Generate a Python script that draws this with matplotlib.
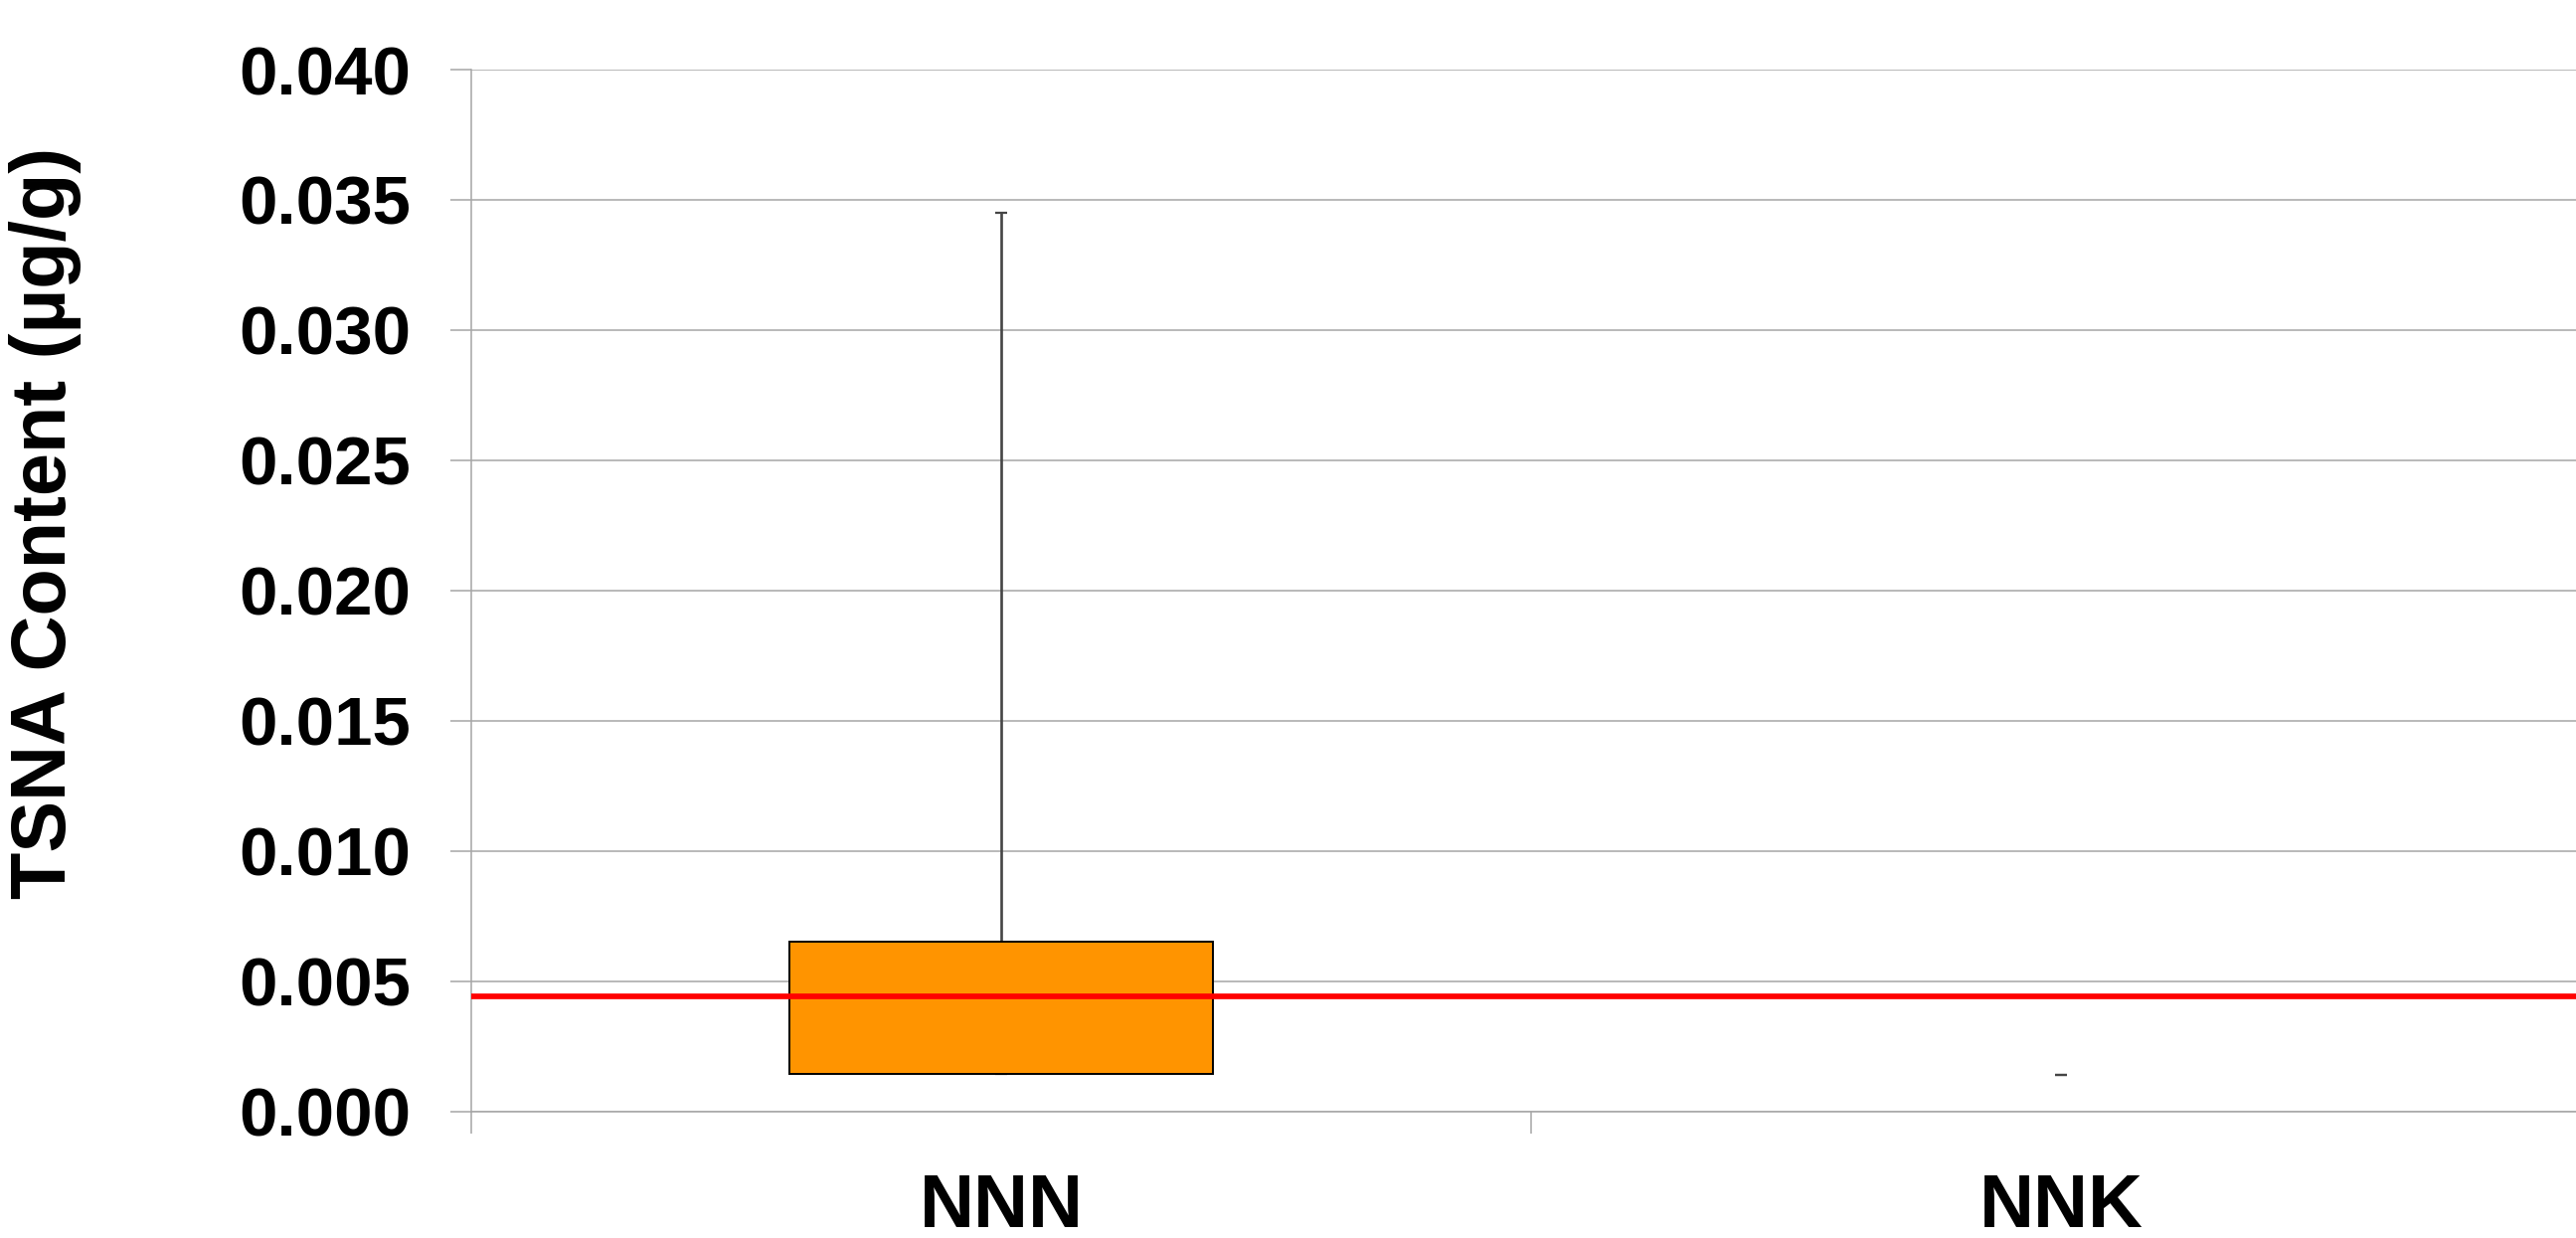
import numpy as np
import matplotlib
matplotlib.use("Agg")
import matplotlib.pyplot as plt
from matplotlib.ticker import FixedLocator, NullFormatter, FormatStrFormatter

# ----------------------------
# Data
# ----------------------------
categories = ["NNN", "NNK"]
box_low = [0.00143, 0.00142]      # lower edge of box (25th pct)
box_high = [0.0065, 0.00142]      # upper edge of box (75th pct)
whisker_low = [0.00143, 0.00142]
whisker_high = [0.0345, 0.00142]
reference_level = 0.0044          # red horizontal line

y_ticks = [0.000, 0.005, 0.010, 0.015, 0.020, 0.025, 0.030, 0.035, 0.040]

plt.rcParams["font.family"] = ["Liberation Sans", "DejaVu Sans"]
plt.rcParams["font.weight"] = "bold"

grid_col = "#a6a6a6"

fig = plt.figure(figsize=(25.91, 12.45), dpi=100)
# axes runs past the right edge of the picture, as in the reference
ax = fig.add_axes([474.3 / 2591, 127.3 / 1245, (2606 - 474.3) / 2591, (1117.7 - 70) / 1245])

x = np.arange(1, len(categories) + 1)
lo = np.array(box_low)
hi = np.array(box_high)

# whiskers (behind the boxes)
ax.errorbar(x, lo, yerr=[lo - np.array(whisker_low), np.array(whisker_high) - lo],
            fmt="none", ecolor="#454545", elinewidth=1.9, capsize=4.3, capthick=1.6, zorder=2)

# boxes, no outline where the box has no height
heights = hi - lo
ax.bar(x, heights, bottom=lo, width=0.4, color="#ff9400",
       edgecolor="black", linewidth=[1.4 if h > 0 else 0 for h in heights], zorder=3)

ax.axhline(reference_level, color="#ff0000", linewidth=4.1, zorder=4)

# axes styling
ax.set_xlim(0.5, len(categories) + 0.5)
ax.set_ylim(y_ticks[0], y_ticks[-1])
ax.set_yticks(y_ticks)
ax.yaxis.set_major_formatter(FormatStrFormatter("%.3f"))
ax.grid(axis="y", color=grid_col, linewidth=1.1, zorder=0)
ax.set_axisbelow(True)

ax.xaxis.set_major_locator(FixedLocator(np.arange(0.5, len(categories) + 1, 1.0)))
ax.xaxis.set_major_formatter(NullFormatter())
ax.xaxis.set_minor_locator(FixedLocator(x))
ax.set_xticklabels(categories, minor=True)

for side in ["top", "right"]:
    ax.spines[side].set_visible(False)
for side in ["left", "bottom"]:
    ax.spines[side].set_color(grid_col)
    ax.spines[side].set_linewidth(1.1)

ax.tick_params(axis="y", which="major", direction="out", length=15, width=1.1,
               color=grid_col, pad=29, labelsize=49.7)
ax.tick_params(axis="x", which="major", direction="out", length=16, width=1.1, color=grid_col)
ax.tick_params(axis="x", which="minor", length=0, pad=44, labelsize=54.7)

ax.set_ylabel("TSNA Content (µg/g)", fontsize=55.8, fontweight="bold")
ax.yaxis.set_label_coords((82 - 474.3) / (2606 - 474.3), (1117.7 - 526) / (1117.7 - 70))

fig.savefig("out.png", dpi=100)
